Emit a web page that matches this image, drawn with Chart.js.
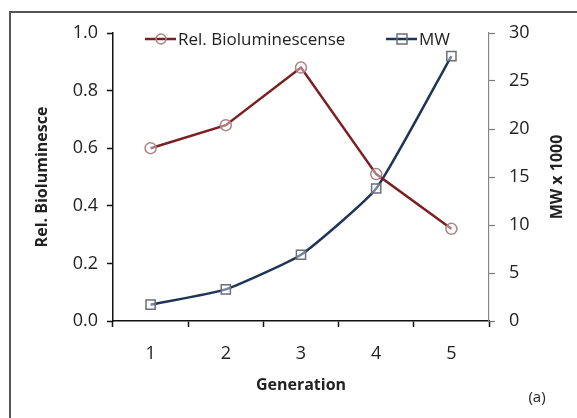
<!DOCTYPE html>
<html>
<head>
<meta charset="utf-8">
<script src="https://cdn.jsdelivr.net/npm/chart.js@4.4.1/dist/chart.umd.min.js"></script>
<style>
    html, body { margin: 0; padding: 0; background: #fff; }
    #wrap { width: 577px; height: 418px; }
</style>
</head>
<body>
<div id="wrap"><canvas id="chart" width="577" height="418"></canvas></div>
<script>
// Data
const generations = ['1', '2', '3', '4', '5'];
const relBiolum = [0.60, 0.68, 0.88, 0.51, 0.32];
const mwThousands = [1.7, 3.3, 6.9, 13.8, 27.6];

const FONT = '"Open Sans", Lato, sans-serif';
const bioColor = '#7b1f22';
const bioMarker = '#a98585';
const mwColor = '#1f3558';
const mwMarker = '#6b6f78';

// Frame, legend, right-axis title and panel tag
const extras = {
    id: 'extras',
    afterDraw(chart) {
        const ctx = chart.ctx;
        const area = chart.chartArea;
        ctx.save();

        // partial frame (left and top edge)
        ctx.strokeStyle = '#555';
        ctx.lineWidth = 2;
        ctx.beginPath();
        ctx.moveTo(10, 418);
        ctx.lineTo(10, 12);
        ctx.lineTo(577, 12);
        ctx.stroke();

        // legend
        const items = [
            { ds: chart.data.datasets[0], x: area.left + 32 },
            { ds: chart.data.datasets[1], x: area.left + 273 }
        ];
        const ly = area.top + 6;
        ctx.font = '17px ' + FONT;
        ctx.textBaseline = 'middle';
        items.forEach(it => {
            ctx.strokeStyle = it.ds.borderColor;
            ctx.lineWidth = 2.5;
            ctx.beginPath();
            ctx.moveTo(it.x, ly);
            ctx.lineTo(it.x + 31, ly);
            ctx.stroke();
            ctx.strokeStyle = it.ds.pointBorderColor;
            ctx.lineWidth = 1.5;
            ctx.beginPath();
            if (it.ds.pointStyle === 'circle') {
                ctx.arc(it.x + 16, ly, 5, 0, Math.PI * 2);
            } else {
                ctx.rect(it.x + 11, ly - 5, 10, 10);
            }
            ctx.stroke();
            ctx.fillStyle = '#222';
            ctx.textAlign = 'left';
            ctx.fillText(it.ds.label, it.x + 33, ly + 1);
        });

        // right axis title, reading bottom to top
        ctx.translate(557, (area.top + area.bottom) / 2);
        ctx.rotate(-Math.PI / 2);
        ctx.font = 'bold 16px ' + FONT;
        ctx.textAlign = 'center';
        ctx.fillStyle = '#222';
        ctx.fillText('MW x 1000', 0, 0);
        ctx.restore();

        ctx.save();
        ctx.font = '15px ' + FONT;
        ctx.fillStyle = '#222';
        ctx.textAlign = 'center';
        ctx.textBaseline = 'middle';
        ctx.fillText('(a)', 537, 398);
        ctx.restore();
    }
};

new Chart(document.getElementById('chart'), {
    type: 'line',
    data: {
        labels: generations,
        datasets: [{
            label: 'Rel. Bioluminescense',
            data: relBiolum,
            yAxisID: 'y',
            borderColor: bioColor,
            borderWidth: 2.5,
            pointStyle: 'circle',
            pointRadius: 5.5,
            pointBorderWidth: 1.5,
            pointBorderColor: bioMarker,
            pointBackgroundColor: 'rgba(255,255,255,0.4)',
            tension: 0
        }, {
            label: 'MW',
            data: mwThousands,
            yAxisID: 'y1',
            borderColor: mwColor,
            borderWidth: 2.5,
            pointStyle: 'rect',
            pointRadius: 6.5,
            pointBorderWidth: 1.5,
            pointBorderColor: mwMarker,
            pointBackgroundColor: 'rgba(255,255,255,0.4)',
            tension: 0.15
        }]
    },
    options: {
        responsive: false,
        animation: false,
        layout: { padding: { left: 0, right: 0, top: 33, bottom: 0 } },
        plugins: {
            legend: { display: false },
            tooltip: { enabled: false }
        },
        scales: {
            x: {
                offset: true,
                grid: {
                    offset: true,
                    drawOnChartArea: false,
                    drawTicks: true,
                    tickLength: 6,
                    tickColor: '#111',
                    tickWidth: 1.5
                },
                border: { display: true, color: '#111', width: 1.5 },
                ticks: { color: '#222', font: { family: FONT, size: 18 }, padding: 16 },
                title: {
                    display: true,
                    text: 'Generation',
                    color: '#222',
                    font: { family: FONT, size: 16, weight: 'bold' },
                    padding: { top: 0, bottom: 23 }
                },
                afterFit(scale) { scale.height = 97; }
            },
            y: {
                position: 'left',
                min: 0,
                max: 1,
                grid: {
                    drawOnChartArea: false,
                    tickLength: 6,
                    tickColor: '#111',
                    tickWidth: 1.5
                },
                border: { display: true, color: '#111', width: 1.5 },
                ticks: {
                    stepSize: 0.2,
                    color: '#222',
                    padding: 9,
                    font: { family: FONT, size: 18 },
                    callback: v => v.toFixed(1)
                },
                title: {
                    display: true,
                    text: 'Rel. Bioluminesce',
                    color: '#222',
                    font: { family: FONT, size: 16, weight: 'bold' },
                    padding: { top: 33, bottom: 0 }
                },
                afterFit(scale) { scale.width = 113; }
            },
            y1: {
                position: 'right',
                min: 0,
                max: 30,
                grid: {
                    drawOnChartArea: false,
                    tickLength: 6,
                    tickColor: '#777',
                    tickWidth: 1.2
                },
                border: { display: true, color: '#888', width: 1.2 },
                ticks: {
                    stepSize: 5,
                    color: '#222',
                    padding: 14,
                    font: { family: FONT, size: 18 }
                },
                afterFit(scale) { scale.width = 88; }
            }
        }
    },
    plugins: [extras]
});
</script>
</body>
</html>
